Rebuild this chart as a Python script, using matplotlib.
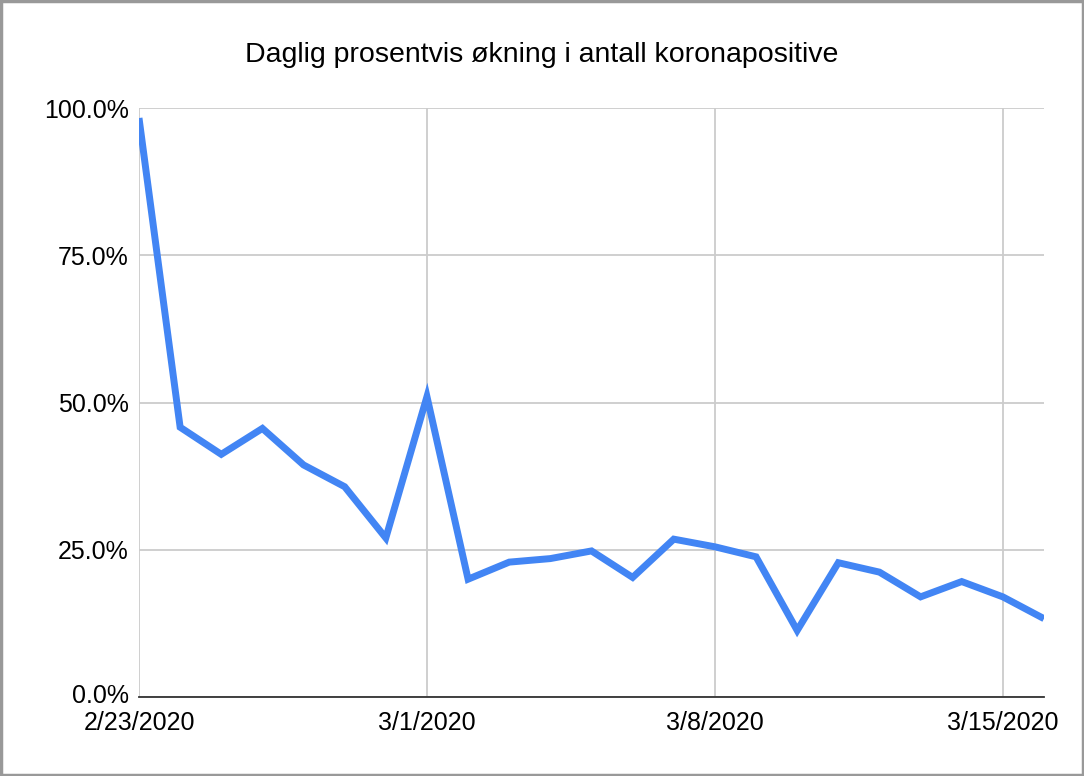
import matplotlib
matplotlib.use("Agg")
import matplotlib.pyplot as plt
import matplotlib.ticker as mticker
from matplotlib.patches import Rectangle
import pandas as pd

plt.rcParams['font.family'] = ['Liberation Sans', 'DejaVu Sans']

title = "Daglig prosentvis økning i antall koronapositive"
start_date = "2020-02-23"
end_date = "2020-03-16"
pct_increase = [98.3, 45.8, 41.2, 45.6, 39.4, 35.7, 27.0, 51.0, 20.0, 22.9, 23.5,
                24.8, 20.3, 26.8, 25.5, 23.8, 11.3, 22.8, 21.2, 17.0, 19.6, 17.0, 13.3]
x_tick_dates = ["2020-02-23", "2020-03-01", "2020-03-08", "2020-03-15"]
x_tick_labels = ["2/23/2020", "3/1/2020", "3/8/2020", "3/15/2020"]
y_ticks = [0, 25, 50, 75, 100]

dates = pd.date_range(start_date, end_date, freq="D")
xticks = pd.to_datetime(x_tick_dates)

W, H = 1084, 776
fig = plt.figure(figsize=(W / 100, H / 100), dpi=100)
ax = fig.add_axes([139 / W, 1 - 697 / H, (1044 - 139) / W, (697 - 108) / H])

ax.plot(dates, pct_increase, color="#4285F4", linewidth=5.0, solid_joinstyle="miter",
        solid_capstyle="butt", zorder=3)

ax.set_xlim(dates[0], dates[-1])
ax.set_ylim(0, 100)
ax.set_yticks(y_ticks)
ax.yaxis.set_major_formatter(mticker.FuncFormatter(lambda v, p: f"{v:.1f}%"))
ax.set_xticks(xticks)
ax.set_xticklabels(x_tick_labels)

ax.grid(True, color="#cccccc", linewidth=1.3, zorder=0)
for s in ["top", "right", "left"]:
    ax.spines[s].set_visible(False)
ax.spines["bottom"].set_color("#333333")
ax.spines["bottom"].set_linewidth(1.3)
ax.spines["bottom"].set_zorder(4)
ax.tick_params(axis="both", length=0, labelsize=18, colors="#000000")
ax.tick_params(axis="y", pad=7.5)
ax.tick_params(axis="x", pad=10)
# nudge the 0.0% label up slightly so it doesn't collide with the first date label
ylabels = ax.get_yticklabels()
ylabels[0].set_va("bottom")
ylabels[0].set_y(0)
import matplotlib.transforms as mtransforms
ylabels[0].set_transform(ylabels[0].get_transform() + mtransforms.ScaledTranslation(0, -8 / 72, fig.dpi_scale_trans))

fig.text(0.5, 1 - 55 / H, title, ha="center", va="center", fontsize=20.5)

fig.patches.append(Rectangle((0.001, 0.0015), 0.998, 0.997, transform=fig.transFigure,
                             fill=False, edgecolor="#999999", linewidth=2.5))

fig.savefig("out.png", dpi=100)
